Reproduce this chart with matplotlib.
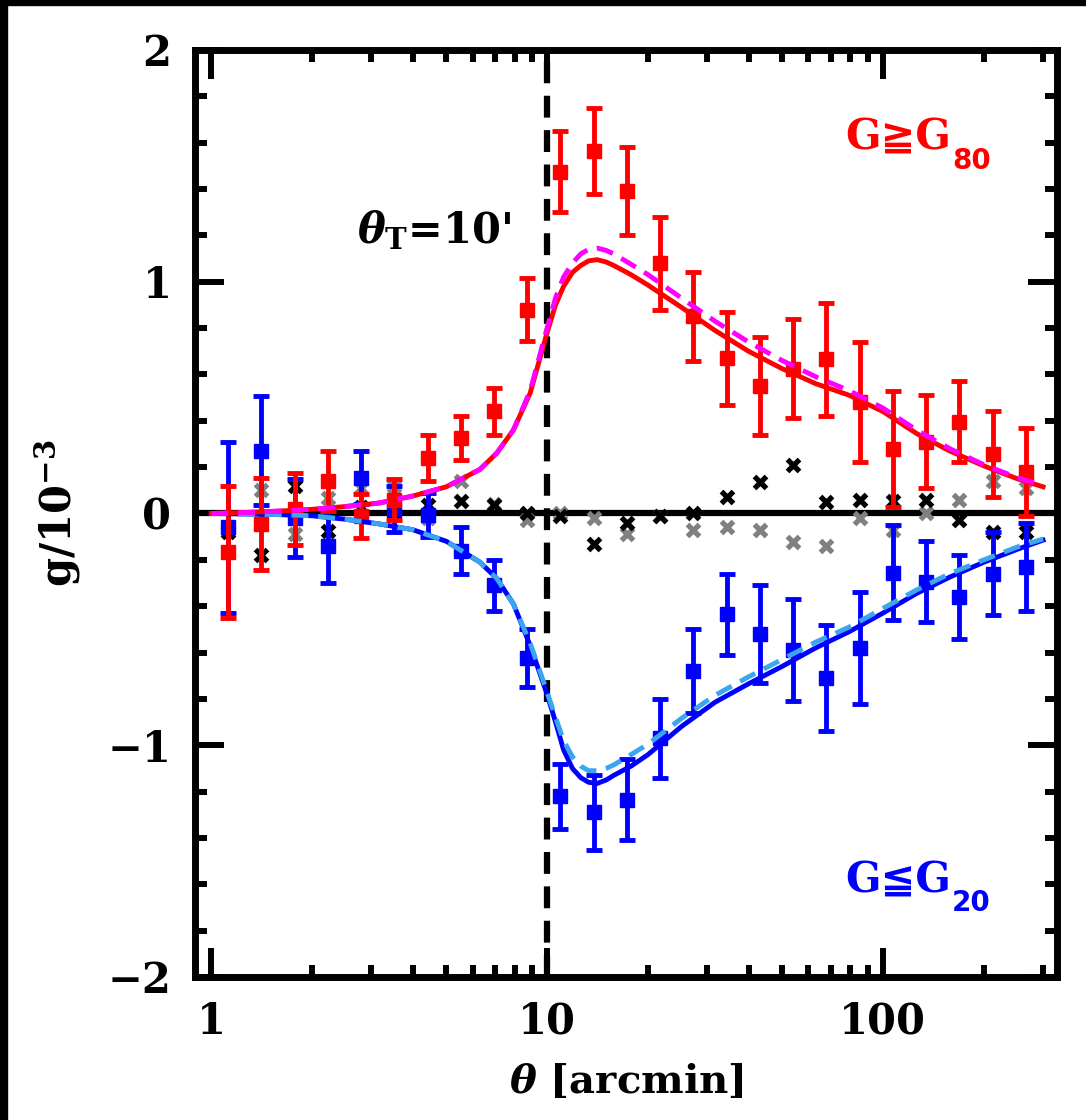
import matplotlib
matplotlib.use("Agg")
import matplotlib.pyplot as plt
from matplotlib.patches import Rectangle

plt.rcParams['font.family'] = ['DejaVu Serif', 'DejaVu Sans']
plt.rcParams['font.weight'] = 'bold'
plt.rcParams['axes.labelweight'] = 'bold'
plt.rcParams['mathtext.fontset'] = 'custom'
plt.rcParams['mathtext.rm'] = 'DejaVu Serif:bold'
plt.rcParams['mathtext.it'] = 'DejaVu Serif:italic:bold'
plt.rcParams['mathtext.bf'] = 'DejaVu Serif:bold'

# angular bins [arcmin]
theta = [1.12, 1.41, 1.77, 2.22, 2.79, 3.51, 4.41, 5.53, 6.95, 8.73,
         10.96, 13.77, 17.30, 21.73, 27.29, 34.28, 43.05, 54.08, 67.92, 85.31,
         107.2, 134.6, 169.0, 212.3, 266.7]

# G >= G80 (red)
g_hi = [-0.165, -0.045, 0.02, 0.14, -0.01, 0.06, 0.24, 0.325, 0.44, 0.88,
        1.475, 1.565, 1.39, 1.08, 0.85, 0.67, 0.55, 0.625, 0.665, 0.48,
        0.28, 0.31, 0.395, 0.255, 0.18]
err_hi = [0.285, 0.2, 0.155, 0.13, 0.095, 0.09, 0.1, 0.095, 0.1, 0.135,
          0.175, 0.185, 0.19, 0.2, 0.19, 0.2, 0.21, 0.215, 0.245, 0.26,
          0.25, 0.2, 0.175, 0.185, 0.19]

# G <= G20 (blue)
g_lo = [-0.06, 0.27, -0.02, -0.14, 0.155, 0.02, -0.005, -0.16, -0.31, -0.625,
        -1.22, -1.29, -1.235, -0.97, -0.68, -0.435, -0.52, -0.59, -0.71, -0.58,
        -0.255, -0.295, -0.36, -0.26, -0.23]
err_lo = [0.37, 0.235, 0.17, 0.16, 0.115, 0.1, 0.095, 0.1, 0.11, 0.125,
          0.14, 0.16, 0.175, 0.17, 0.18, 0.175, 0.21, 0.22, 0.23, 0.24,
          0.205, 0.175, 0.18, 0.18, 0.19]

# cross-component tests
cross_black = [-0.08, -0.18, 0.12, -0.075, 0.03, 0.0, 0.035, 0.055, 0.035, 0.0,
               -0.01, -0.13, -0.04, -0.01, 0.0, 0.07, 0.135, 0.21, 0.05, 0.06,
               0.055, 0.06, -0.03, -0.08, -0.08]
cross_gray = [-0.07, 0.10, -0.09, 0.065, 0.11, 0.12, -0.02, 0.14, 0.04, -0.03,
              0.0, -0.02, -0.09, -0.01, -0.07, -0.06, -0.07, -0.125, -0.14, -0.02,
              -0.07, 0.0, 0.06, 0.14, 0.11]

# model curves
theta_m = [1.0, 1.26, 1.58, 2.0, 2.51, 3.16, 3.98, 5.01, 6.31, 7.08, 7.94, 8.91,
           10.0, 10.6, 11.2, 11.9, 12.6, 13.3, 14.1, 15.0, 15.8, 17.8, 20.0,
           25.1, 31.6, 39.8, 50.1, 63.1, 79.4, 100, 126, 158, 200, 251, 300]
model_hi = [0.0, 0.004, 0.01, 0.018, 0.03, 0.045, 0.075, 0.115, 0.19, 0.26, 0.36, 0.52,
            0.78, 0.90, 0.98, 1.04, 1.07, 1.09, 1.095, 1.085, 1.07, 1.03, 0.985,
            0.89, 0.79, 0.70, 0.625, 0.56, 0.51, 0.44, 0.345, 0.27, 0.205, 0.15, 0.115]
model_hi2 = [0.0, 0.004, 0.01, 0.018, 0.03, 0.045, 0.075, 0.115, 0.19, 0.26, 0.36, 0.53,
             0.80, 0.93, 1.02, 1.08, 1.12, 1.14, 1.145, 1.135, 1.12, 1.075, 1.03,
             0.93, 0.83, 0.74, 0.66, 0.59, 0.53, 0.455, 0.36, 0.28, 0.21, 0.155, 0.12]
model_lo = [0.0, -0.002, -0.005, -0.01, -0.025, -0.045, -0.07, -0.12, -0.21, -0.28, -0.39, -0.57,
            -0.78, -0.90, -1.02, -1.10, -1.14, -1.16, -1.165, -1.15, -1.13, -1.09, -1.04,
            -0.92, -0.815, -0.735, -0.66, -0.58, -0.51, -0.43, -0.345, -0.275, -0.21, -0.155, -0.115]
model_lo2 = [0.0, -0.002, -0.005, -0.01, -0.025, -0.045, -0.07, -0.12, -0.21, -0.28, -0.39, -0.56,
             -0.77, -0.88, -0.98, -1.05, -1.09, -1.11, -1.11, -1.10, -1.085, -1.04, -0.995,
             -0.885, -0.785, -0.705, -0.63, -0.555, -0.49, -0.41, -0.33, -0.26, -0.2, -0.145, -0.11]

RED = '#ff0000'
BLUE = '#0000ff'
MAGENTA = '#ff00ff'
LIGHTBLUE = '#3aa6f0'

fig = plt.figure(figsize=(10.86, 11.2), dpi=100)
ax = fig.add_axes([0.1796, 0.1277, 0.7937, 0.8277])

ax.axhline(0, color='black', linewidth=4.5, zorder=1)
ax.axvline(10, color='black', linewidth=4.5, dashes=(3.5, 2), zorder=1)

ax.plot(theta, cross_gray, linestyle='none', marker='x', color='#808080',
        markersize=8.5, markeredgewidth=3.8, zorder=2)
ax.plot(theta, cross_black, linestyle='none', marker='x', color='black',
        markersize=8.5, markeredgewidth=3.8, zorder=2)

ax.errorbar(theta, g_lo, yerr=err_lo, fmt='s', color=BLUE, markersize=9.5,
            elinewidth=3.5, capsize=6, capthick=3.5, zorder=3)
ax.errorbar(theta, g_hi, yerr=err_hi, fmt='s', color=RED, markersize=9.5,
            elinewidth=3.5, capsize=6, capthick=3.5, zorder=4)

ax.plot(theta_m, model_lo, color=BLUE, linewidth=3.5, zorder=5)
ax.plot(theta_m, model_lo2, color=LIGHTBLUE, linewidth=3.5, dashes=(3.5, 2), zorder=5)
ax.plot(theta_m, model_hi, color=RED, linewidth=3.5, zorder=5)
ax.plot(theta_m, model_hi2, color=MAGENTA, linewidth=3.5, dashes=(3.5, 2), zorder=5)

ax.set_xscale('log')
ax.set_xlim(0.895, 330)
ax.set_ylim(-2, 2)
ax.set_xticks([1, 10, 100])
ax.set_xticklabels(['1', '10', '100'])
ax.set_yticks([-2, -1, 0, 1, 2])
ax.set_yticks([v / 5 for v in range(-10, 11)], minor=True)

for s in ax.spines.values():
    s.set_linewidth(5)
ax.tick_params(which='both', direction='in', top=True, right=True, width=4.3)
ax.tick_params(which='major', length=21, labelsize=30, pad=17)
ax.tick_params(which='minor', length=8.5)

ax.set_xlabel(r"$\theta$ [arcmin]", fontsize=29, fontweight='bold', labelpad=14)
ax.set_ylabel(r"$\mathbf{g/10^{-3}}$", fontsize=30, labelpad=18)

ax.text(2.72, 1.22, r"$\theta_\mathbf{T}$=10'", fontsize=30, ha='left', va='center')

t1 = ax.text(77, 1.625, "G≧G", color=RED, fontsize=30, ha='left', va='center')
ax.annotate("80", xy=(1, 0), xycoords=t1, xytext=(1, -2), textcoords='offset points',
            color=RED, fontsize=20, family='DejaVu Sans', ha='left', va='center')
t2 = ax.text(77, -1.58, "G≦G", color=BLUE, fontsize=30, ha='left', va='center')
ax.annotate("20", xy=(1, 0), xycoords=t2, xytext=(1, -2), textcoords='offset points',
            color=BLUE, fontsize=20, family='DejaVu Sans', ha='left', va='center')

# black edge strips of the original scan
fig.add_artist(Rectangle((0, 0), 7 / 1086, 1, transform=fig.transFigure, color='black'))
fig.add_artist(Rectangle((0, 1 - 5 / 1120), 1, 5 / 1120, transform=fig.transFigure, color='black'))

fig.savefig('out.png', dpi=100)
